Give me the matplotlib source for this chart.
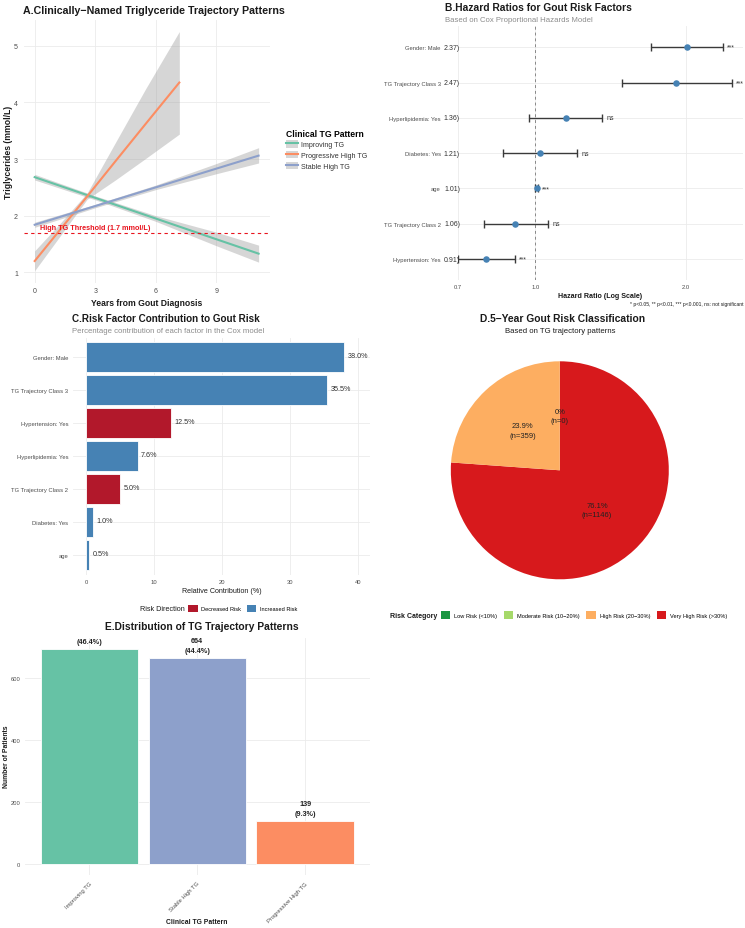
import numpy as np
import matplotlib.pyplot as plt
from matplotlib.patches import Patch
from matplotlib.lines import Line2D
from matplotlib.ticker import NullLocator, FixedLocator, FixedFormatter

plt.rcParams['font.family'] = ['Liberation Sans', 'DejaVu Sans']

# ---------------- data ----------------
# A: fitted TG trajectories (x in years, fitted value, CI lower / upper)
pattern_names = ['Improving TG', 'Progressive High TG', 'Stable High TG']
pattern_colors = ['#66C2A5', '#FC8D62', '#8DA0CB']

improving_x = [0, 3, 6, 9, 11.1]
improving_fit = [2.68, 2.315, 1.95, 1.585, 1.33]
improving_lo = [2.63, 2.28, 1.90, 1.47, 1.18]
improving_up = [2.73, 2.35, 2.00, 1.71, 1.48]

progressive_x = [0, 1.3, 2.6, 4, 5.5, 7.17]
progressive_fit = [1.2, 1.77, 2.34, 2.96, 3.62, 4.35]
progressive_lo = [1.03, 1.66, 2.29, 2.63, 3.01, 3.44]
progressive_up = [1.38, 1.88, 2.40, 3.29, 4.24, 5.25]

stable_x = [0, 3, 6, 9, 11.1]
stable_fit = [1.84, 2.17, 2.50, 2.83, 3.06]
stable_lo = [1.795, 2.14, 2.46, 2.74, 2.93]
stable_up = [1.885, 2.20, 2.54, 2.92, 3.20]

tg_threshold = 1.7

# B: hazard ratios
hr_factors = ['Gender: Male', 'TG Trajectory Class 3', 'Hyperlipidemia: Yes', 'Diabetes: Yes',
              'age', 'TG Trajectory Class 2', 'Hypertension: Yes']
hr_values = [2.01, 1.91, 1.15, 1.02, 1.005, 0.91, 0.795]
hr_lower = [1.70, 1.49, 0.97, 0.86, 1.00, 0.79, 0.70]
hr_upper = [2.37, 2.47, 1.36, 1.21, 1.01, 1.06, 0.91]
hr_sig = ['***', '***', 'ns', 'ns', '***', 'ns', '***']

# C: contributions
contrib_factors = ['Gender: Male', 'TG Trajectory Class 3', 'Hypertension: Yes', 'Hyperlipidemia: Yes',
                   'TG Trajectory Class 2', 'Diabetes: Yes', 'age']
contrib_values = [38.0, 35.5, 12.5, 7.6, 5.0, 1.0, 0.5]
contrib_direction = ['Increased Risk', 'Increased Risk', 'Decreased Risk', 'Increased Risk',
                     'Decreased Risk', 'Increased Risk', 'Increased Risk']
direction_names = ['Decreased Risk', 'Increased Risk']
direction_colors = ['#B2182B', '#4682B4']

# D: risk classes
risk_names = ['Low Risk (<10%)', 'Moderate Risk (10\u221220%)', 'High Risk (20\u221230%)', 'Very High Risk (>30%)']
risk_colors = ['#1A9641', '#A6D96A', '#FDAE61', '#D7191C']
pie_classes = ['Very High Risk (>30%)', 'High Risk (20\u221230%)', 'Moderate Risk (10\u221220%)']
pie_counts = [1146, 359, 0]

# E: pattern distribution
dist_patterns = ['Improving TG', 'Stable High TG', 'Progressive High TG']
dist_counts = [694, 664, 139]

# ---------------- helpers ----------------
W, H = 745, 929
fig = plt.figure(figsize=(W / 100, H / 100), dpi=100)

GRID = '#EBEBEB'
TICK = '#4D4D4D'
DARK = '#1A1A1A'


def axes_px(left, top, right, bottom):
    return fig.add_axes([left / W, 1 - bottom / H, (right - left) / W, (bottom - top) / H])


def ftext(x, y, s, **kw):
    return fig.text(x / W, 1 - y / H, s, **kw)


def minimal(ax, size=4.2):
    for s in ax.spines.values():
        s.set_visible(False)
    ax.grid(True, color=GRID, linewidth=0.6)
    ax.set_axisbelow(True)
    ax.tick_params(length=0, labelsize=size, labelcolor=TICK)


color_of = dict(zip(pattern_names, pattern_colors))

# ---------------- A ----------------
axA = axes_px(23.5, 20.6, 269.8, 283.6)
minimal(axA, 5)
series = [(improving_x, improving_fit, improving_lo, improving_up),
          (progressive_x, progressive_fit, progressive_lo, progressive_up),
          (stable_x, stable_fit, stable_lo, stable_up)]
handles = []
for name, (x, fit, lo, up) in zip(pattern_names, series):
    axA.fill_between(x, lo, up, color='#999999', alpha=0.4, linewidth=0)
for name, (x, fit, lo, up) in zip(pattern_names, series):
    axA.plot(x, fit, color=color_of[name], linewidth=1.5)
    handles.append((Patch(facecolor='#999999', alpha=0.4, linewidth=0),
                    Line2D([], [], color=color_of[name], linewidth=1.5)))
axA.axhline(tg_threshold, color='#E8141E', linestyle=(0, (3, 3)), linewidth=0.8)
axA.text(3, tg_threshold + 0.09, 'High TG Threshold (1.7 mmol/L)', color='#E8141E',
         fontsize=5.2, fontweight='bold', ha='center', va='center')
axA.set_xlim(-0.555, 11.655)
axA.set_ylim(0.819, 5.461)
axA.set_xticks([0, 3, 6, 9])
axA.set_yticks([1, 2, 3, 4, 5])
axA.tick_params(axis='y', pad=4)
axA.tick_params(axis='x', pad=3)
axA.set_xlabel('Years from Gout Diagnosis', fontsize=6.2, fontweight='bold', color=DARK, labelpad=3)
axA.set_ylabel('Triglycerides (mmol/L)', fontsize=6.2, fontweight='bold', color=DARK, labelpad=1)
ftext(23, 14, 'A.Clinically\u2212Named Triglyceride Trajectory Patterns', fontsize=7.7,
      fontweight='bold', color=DARK, va='baseline')
legA = axA.legend(handles, pattern_names, title='Clinical TG Pattern', loc='upper left',
                  bbox_to_anchor=(282 / W, 1 - 126 / H), bbox_transform=fig.transFigure,
                  frameon=False, fontsize=5.1, title_fontproperties={'weight': 'bold', 'size': 6.2},
                  handlelength=1.8, handleheight=1.2, handletextpad=0.4, labelspacing=0.4,
                  alignment='left', borderpad=0)
for t in legA.get_texts():
    t.set_color('#333333')

# ---------------- B ----------------
axB = axes_px(458, 27.1, 743, 281.2)
minimal(axB)
ypos = np.arange(len(hr_factors))[::-1]
hr = np.array(hr_values)
lo = np.array(hr_lower)
up = np.array(hr_upper)
axB.axvline(1.0, color='#888888', linestyle=(0, (3, 3)), linewidth=0.7, zorder=1)
axB.errorbar(hr, ypos, xerr=[hr - lo, up - hr], fmt='none', ecolor='#3A3A3A',
             elinewidth=1.0, capsize=3.2, capthick=1.0, zorder=2)
axB.scatter(hr, ypos, s=22, color='#4682B4', zorder=3, linewidth=0)
axB.set_xscale('log')
axB.set_xlim(0.7, 2.6)
axB.xaxis.set_major_locator(FixedLocator([0.7, 1.0, 2.0]))
axB.xaxis.set_major_formatter(FixedFormatter(['0.7', '1.0', '2.0']))
axB.xaxis.set_minor_locator(NullLocator())
axB.set_ylim(-0.6, len(hr_factors) - 0.4)
axB.set_yticks(ypos)
axB.set_yticklabels(hr_factors)
axB.tick_params(axis='y', pad=12.5)
axB.tick_params(axis='x', pad=3)
for y, u, s in zip(ypos, hr_upper, hr_sig):
    axB.annotate(f'{u:.2f})', xy=(0, y), xycoords=('axes fraction', 'data'), xytext=(1.5, 0),
                 textcoords='offset points', ha='right', va='center', fontsize=5, color='#333333',
                 annotation_clip=False)
    axB.annotate(s, xy=(u, y), xytext=(3, 0), textcoords='offset points', ha='left',
                 va='center', fontsize=5, color='#333333')
axB.set_xlabel('Hazard Ratio (Log Scale)', fontsize=5.1, fontweight='bold', color=DARK, labelpad=2)
ftext(444.7, 10.8, 'B.Hazard Ratios for Gout Risk Factors', fontsize=7.4, fontweight='bold',
      color=DARK, va='baseline')
ftext(444.7, 22, 'Based on Cox Proportional Hazards Model', fontsize=5.6, color='#8C8C8C',
      va='baseline')
ftext(743, 306, '* p<0.05, ** p<0.01, *** p<0.001, ns: not significant', fontsize=3.6,
      color=DARK, ha='right', va='baseline')

# ---------------- C ----------------
axC = axes_px(73, 338.5, 370, 575.8)
minimal(axC)
yc = np.arange(len(contrib_factors))[::-1]
dcol = dict(zip(direction_names, direction_colors))
axC.barh(yc, contrib_values, height=0.9, color=[dcol[d] for d in contrib_direction],
         edgecolor='white', linewidth=0.6)
for y, v in zip(yc, contrib_values):
    axC.annotate(f'{v:.1f}%', xy=(v, y), xytext=(2.5, 1), textcoords='offset points',
                 ha='left', va='center', fontsize=5.25, color='#333333')
axC.set_xlim(-1.9, 41.8)
axC.set_ylim(-0.6, len(contrib_factors) - 0.4)
axC.set_xticks([0, 10, 20, 30, 40])
axC.set_yticks(yc)
axC.set_yticklabels(contrib_factors)
axC.tick_params(axis='y', pad=3.4)
axC.tick_params(axis='x', pad=3)
axC.set_xlabel('Relative Contribution (%)', fontsize=5.1, color=DARK, labelpad=2.5)
ftext(71.7, 322.3, 'C.Risk Factor Contribution to Gout Risk', fontsize=7.1, fontweight='bold',
      color=DARK, va='baseline')
ftext(71.7, 333.3, 'Percentage contribution of each factor in the Cox model', fontsize=5.6,
      color='#8C8C8C', va='baseline')
ftext(184.5, 609.5, 'Risk Direction', fontsize=5.2, color=DARK, ha='right', va='center')
fig.legend([Patch(facecolor=c) for c in direction_colors], direction_names, ncol=2,
           loc='center left', bbox_to_anchor=(188 / W, 1 - 609.5 / H), frameon=False,
           fontsize=4.1, handlelength=1.75, handleheight=1.75, handletextpad=0.6,
           columnspacing=0.9, borderpad=0, borderaxespad=0)

# ---------------- D ----------------
axD = axes_px(450.8, 362.3, 668.8, 580.3)
rcol = dict(zip(risk_names, risk_colors))
total = sum(pie_counts)
pie_labels = []
for n in pie_counts:
    p = round(100 * n / total, 1)
    ptxt = f'{p:.1f}'.rstrip('0').rstrip('.')
    pie_labels.append(f'{ptxt}%\n(n={n})')
wedges, texts = axD.pie(pie_counts, colors=[rcol[c] for c in pie_classes], startangle=90,
                        counterclock=False, labels=pie_labels, labeldistance=0.5,
                        wedgeprops={'linewidth': 0},
                        textprops={'fontsize': 5.5, 'color': '#222222', 'linespacing': 1.45})
for t in texts:
    t.set_ha('center')
    t.set_va('center')
axD.set_xlim(-1, 1)
axD.set_ylim(-1, 1)
ftext(563, 322.3, 'D.5\u2212Year Gout Risk Classification', fontsize=7.4, fontweight='bold',
      color=DARK, ha='center', va='baseline')
ftext(560, 333, 'Based on TG trajectory patterns', fontsize=5.6, color=DARK, ha='center',
      va='baseline')
ftext(390, 616, 'Risk Category', fontsize=5, fontweight='bold', color=DARK, ha='left', va='center')
fig.legend([Patch(facecolor=c) for c in risk_colors], risk_names, ncol=4,
           loc='center left', bbox_to_anchor=(441 / W, 1 - 616 / H), frameon=False,
           fontsize=4.1, handlelength=1.6, handleheight=1.6, handletextpad=0.7,
           columnspacing=1.2, borderpad=0, borderaxespad=0)

# ---------------- E ----------------
axE = axes_px(24.5, 638.9, 369.8, 875.8)
minimal(axE)
xe = np.arange(len(dist_patterns))
axE.bar(xe, dist_counts, width=0.9, color=[color_of[p] for p in dist_patterns],
        edgecolor='white', linewidth=0.6)
tot = sum(dist_counts)
for x, n in zip(xe, dist_counts):
    axE.annotate(f'{n}\n({100 * n / tot:.1f}%)', xy=(x, n), xytext=(0, 3),
                 textcoords='offset points', ha='center', va='bottom', fontsize=5.2,
                 fontweight='bold', color='#222222', linespacing=1.5, clip_on=True)
axE.set_xlim(-0.6, 2.6)
axE.set_ylim(-34.7, 728.7)
axE.set_xticks(xe)
axE.set_xticklabels(dist_patterns, rotation=45, ha='right', rotation_mode='anchor')
axE.set_yticks([0, 200, 400, 600])
axE.tick_params(axis='x', pad=4)
axE.tick_params(axis='y', pad=3)
ftext(196.7, 923, 'Clinical TG Pattern', fontsize=4.9, fontweight='bold', color=DARK,
      ha='center', va='center')
ftext(7, 757, 'Number of Patients', fontsize=4.9, fontweight='bold', color=DARK,
      ha='center', va='center', rotation=90)
ftext(201.7, 630, 'E.Distribution of TG Trajectory Patterns', fontsize=7.4, fontweight='bold',
      color=DARK, ha='center', va='baseline')

fig.savefig('out.png', dpi=100, facecolor='white')
